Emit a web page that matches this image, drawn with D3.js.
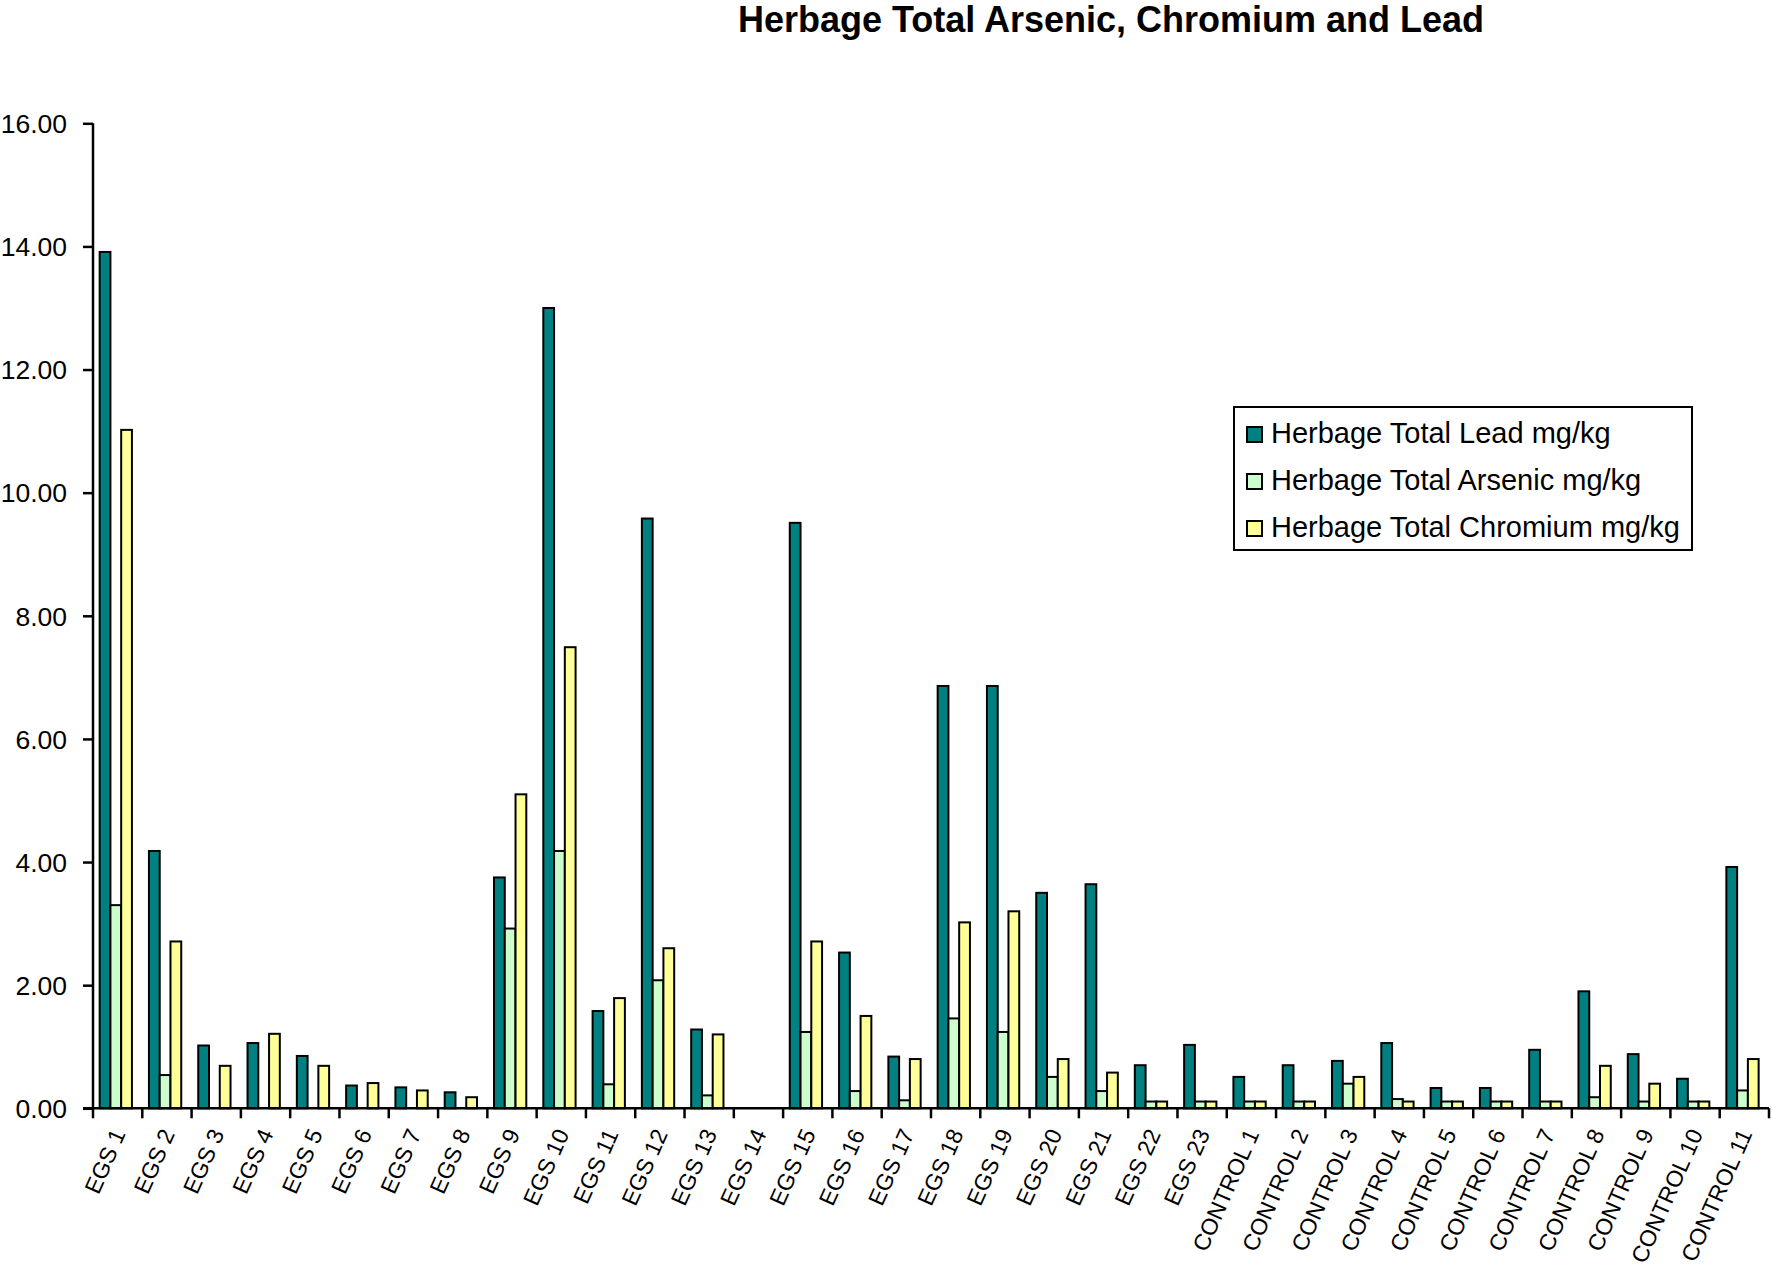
<!DOCTYPE html>
<html>
<head>
<meta charset="utf-8">
<script src="https://cdn.jsdelivr.net/npm/d3@7"></script>
<style>
  body { margin: 0; background: #fff; }
  text { font-family: "Liberation Sans", Arial, sans-serif; }
</style>
</head>
<body>
<div id="chart"></div>
<script>
const categories = ["EGS 1", "EGS 2", "EGS 3", "EGS 4", "EGS 5", "EGS 6", "EGS 7", "EGS 8", "EGS 9", "EGS 10",
  "EGS 11", "EGS 12", "EGS 13", "EGS 14", "EGS 15", "EGS 16", "EGS 17", "EGS 18", "EGS 19", "EGS 20",
  "EGS 21", "EGS 22", "EGS 23", "CONTROL 1", "CONTROL 2", "CONTROL 3", "CONTROL 4", "CONTROL 5",
  "CONTROL 6", "CONTROL 7", "CONTROL 8", "CONTROL 9", "CONTROL 10", "CONTROL 11"];
const seriesNames = ["Herbage Total Lead mg/kg", "Herbage Total Arsenic mg/kg", "Herbage Total Chromium mg/kg"];
const lead = [13.91, 4.18, 1.02, 1.06, 0.85, 0.37, 0.34, 0.26, 3.75, 13.0, 1.58, 9.58, 1.28, 0, 9.51, 2.53, 0.84,
  6.86, 6.86, 3.5, 3.64, 0.70, 1.03, 0.51, 0.70, 0.77, 1.06, 0.33, 0.33, 0.95, 1.90, 0.88, 0.48, 3.92];
const arsenic = [3.30, 0.54, 0, 0, 0, 0, 0, 0, 2.92, 4.18, 0.39, 2.08, 0.21, 0, 1.24, 0.28, 0.13,
  1.46, 1.24, 0.51, 0.28, 0.11, 0.11, 0.11, 0.11, 0.40, 0.15, 0.11, 0.11, 0.11, 0.18, 0.11, 0.11, 0.29];
const chromium = [11.02, 2.71, 0.69, 1.21, 0.69, 0.41, 0.29, 0.18, 5.10, 7.49, 1.79, 2.60, 1.20, 0, 2.71, 1.50, 0.80,
  3.02, 3.20, 0.80, 0.58, 0.11, 0.11, 0.11, 0.11, 0.51, 0.11, 0.11, 0.11, 0.11, 0.69, 0.40, 0.11, 0.80];
const yTicks = [0, 2, 4, 6, 8, 10, 12, 14, 16];
const colors = ["#008080", "#CCFFCC", "#FFFF99"];

const width = 1772;
const height = 1271;
const plotLeft = 93, plotRight = 1769, plotTop = 123.3, plotBottom = 1108.3;

const svg = d3.select("#chart")
  .append("svg")
  .attr("width", width)
  .attr("height", height);

svg.append("rect").attr("width", width).attr("height", height).attr("fill", "#fff");

const x = d3.scaleBand().domain(categories).range([plotLeft, plotRight]);
const bw = x.bandwidth();
// three bars side by side, small gap before, bigger after (like excel)
const x1 = d3.scaleBand().domain(seriesNames).range([bw * 0.135, bw * 0.135 + bw * 0.655]);
const y = d3.scaleLinear().domain([0, 16]).range([plotBottom, plotTop]);

// bars
const series = [lead, arsenic, chromium];
series.forEach((vals, s) => {
  svg.append("g")
    .selectAll("rect")
    .data(vals.map((v, i) => ({ cat: categories[i], v })).filter(d => d.v > 0))
    .enter().append("rect")
    .attr("x", d => x(d.cat) + x1(seriesNames[s]))
    .attr("y", d => y(d.v))
    .attr("width", x1.bandwidth())
    .attr("height", d => y(0) - y(d.v))
    .attr("fill", colors[s])
    .attr("stroke", "#000")
    .attr("stroke-width", 2);
});

// y axis
const yAxis = svg.append("g")
  .attr("transform", `translate(${plotLeft},0)`)
  .call(d3.axisLeft(y).tickValues(yTicks).tickFormat(d3.format(".2f")).tickSize(10).tickPadding(16));
yAxis.select(".domain").attr("stroke", "#000").attr("stroke-width", 2.5).attr("d", `M0,${plotTop}V${plotBottom}`);
yAxis.selectAll(".tick line").attr("stroke", "#000").attr("stroke-width", 2.5);
yAxis.selectAll(".tick text")
  .style("font-size", "26.5px")
  .style("fill", "#000")
  .attr("dy", "0.35em");

// x axis with ticks at category boundaries
const xAxisG = svg.append("g");
xAxisG.append("line")
  .attr("x1", plotLeft - 10).attr("x2", plotRight)
  .attr("y1", plotBottom).attr("y2", plotBottom)
  .attr("stroke", "#000").attr("stroke-width", 2.5);
xAxisG.selectAll(".xtick")
  .data(categories.concat(["end"]))
  .enter().append("line")
  .attr("x1", (d, i) => plotLeft + i * bw)
  .attr("x2", (d, i) => plotLeft + i * bw)
  .attr("y1", plotBottom)
  .attr("y2", plotBottom + 10)
  .attr("stroke", "#000").attr("stroke-width", 2.5);

xAxisG.selectAll(".xlabel")
  .data(categories)
  .enter().append("text")
  .attr("transform", d => `translate(${x(d) + bw / 2 + 1},${plotBottom + 22}) rotate(-66)`)
  .attr("text-anchor", "end")
  .attr("dy", "0.35em")
  .style("font-size", "23px")
  .style("fill", "#000")
  .text(d => d);

// title
svg.append("text")
  .attr("x", 1111)
  .attr("y", 32)
  .attr("text-anchor", "middle")
  .style("font-size", "36px")
  .style("font-weight", "bold")
  .style("fill", "#000")
  .text("Herbage Total Arsenic, Chromium and Lead");

// legend
const legendBox = svg.append("g").attr("transform", "translate(1234,407)");
legendBox.append("rect")
  .attr("width", 458)
  .attr("height", 143)
  .attr("fill", "#fff")
  .attr("stroke", "#000")
  .attr("stroke-width", 2);

const legend = legendBox.selectAll(".legend")
  .data(seriesNames)
  .enter()
  .append("g")
  .attr("class", "legend")
  .attr("transform", (d, i) => `translate(0,${36 + i * 47})`);

legend.append("rect")
  .attr("x", 13)
  .attr("y", -16)
  .attr("width", 15)
  .attr("height", 15)
  .attr("fill", (d, i) => colors[i])
  .attr("stroke", "#000")
  .attr("stroke-width", 2);

legend.append("text")
  .attr("x", 37)
  .attr("y", 0)
  .style("font-size", "29px")
  .style("fill", "#000")
  .text(d => d);
</script>
</body>
</html>
